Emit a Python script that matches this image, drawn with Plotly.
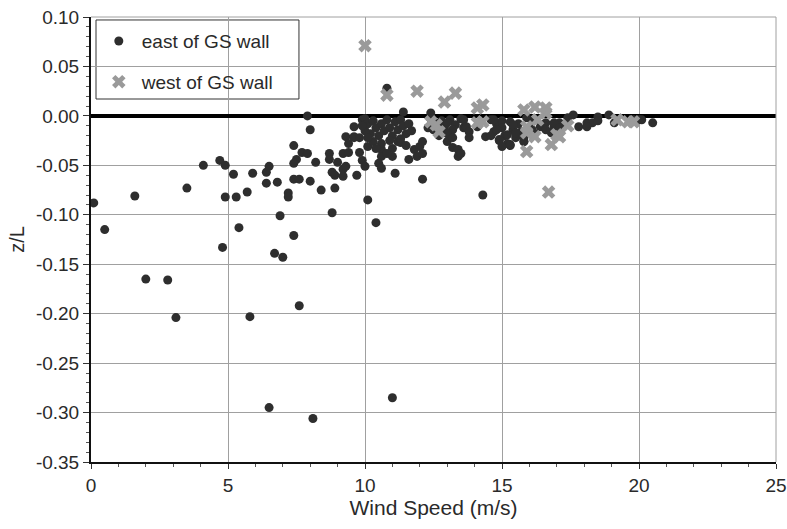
import plotly.graph_objects as go

# Stability parameter z/L versus wind speed, split by site relative to the GS wall
east_ws = [
    0.1, 0.5, 1.6, 2.0, 2.8, 3.1, 3.5, 4.1, 4.7, 4.9, 5.2, 4.8, 4.9, 5.3, 5.4,
    5.7, 5.9, 6.4, 6.5, 6.4, 6.8, 7.2, 7.2, 6.9, 7.4, 7.4, 7.5, 7.4, 7.7, 7.9,
    8.0, 8.2, 7.4, 7.6, 8.0, 8.4, 8.8, 8.9, 8.7, 8.7, 9.0, 8.8, 8.9, 9.2, 9.2,
    9.2, 9.4, 9.3, 9.6, 9.4, 9.6, 9.7, 5.8, 7.6, 6.5, 8.1, 11.0, 6.7, 7.0, 7.9,
    9.3, 9.8, 9.9, 10.0, 10.1, 10.6, 10.6, 10.5, 10.6, 11.0, 11.1, 11.2, 11.3,
    11.6, 11.8, 12.0, 11.9, 12.1, 12.1, 10.1, 10.4, 14.3, 9.6, 9.8, 10.8, 11.4,
    12.4, 9.9,
    10.0, 10.1, 10.3, 10.4, 10.2, 10.0, 10.5, 10.6, 10.7, 10.8, 10.9, 11.0,
    11.1, 11.2, 11.3, 11.4, 11.5, 11.6, 10.3, 10.6, 10.9, 11.3, 10.1, 11.7,
    9.9, 10.4, 11.0, 10.8, 11.5,
    12.4, 12.6, 12.8, 12.5, 12.9, 13.1, 13.3, 13.5, 12.7, 13.0, 13.2, 13.6, 12.3,
    12.7, 13.0, 13.0, 13.0, 13.2, 13.2, 13.4, 13.4, 13.6, 13.7, 13.8, 14.1,
    14.4, 13.8, 13.5, 12.1,
    14.6, 14.8, 14.7, 15.0, 15.0, 15.1, 15.2, 15.3, 15.4, 15.5, 15.6, 15.7,
    14.9, 15.3, 14.6, 15.8, 16.0, 16.1, 16.2, 15.9,
    14.7, 14.8, 14.9, 15.0, 15.2, 15.3, 15.4, 15.5, 15.8, 16.1, 16.4, 16.6,
    16.9, 17.1, 15.8, 16.5, 16.8, 16.9, 17.4, 17.6, 17.8, 18.1, 18.5, 18.3,
    18.9, 19.1, 19.8, 20.1, 20.5, 17.1, 17.3, 16.6, 18.1, 18.5, 20.0,
]
east_zl = [
    -0.088, -0.115, -0.081, -0.165, -0.166, -0.204, -0.073, -0.050, -0.045,
    -0.050, -0.059, -0.133, -0.082, -0.082, -0.113, -0.077, -0.058, -0.057,
    -0.051, -0.068, -0.067, -0.078, -0.082, -0.101, -0.121, -0.030, -0.044,
    -0.048, -0.037, -0.038, -0.014, -0.047, -0.064, -0.064, -0.066, -0.075,
    -0.098, -0.073, -0.038, -0.044, -0.047, -0.057, -0.060, -0.054, -0.061,
    -0.038, -0.037, -0.021, -0.011, -0.028, -0.021, -0.060, -0.203, -0.192,
    -0.295, -0.306, -0.285, -0.139, -0.143, 0.000,
    -0.051, -0.037, -0.045, -0.051, -0.031, -0.034, -0.041, -0.048, -0.053,
    -0.041, -0.058, -0.026, -0.027, -0.044, -0.034, -0.031, -0.041, -0.026,
    -0.064, -0.085, -0.108, -0.080, -0.022, -0.022, 0.028, 0.004, 0.003, -0.004,
    -0.003, -0.008, -0.005, -0.012, -0.018, -0.015, -0.020, -0.008, -0.015,
    -0.004, -0.012, -0.020, -0.006, -0.014, -0.004, -0.010, -0.018, -0.008,
    -0.026, -0.028, -0.025, -0.023, -0.022, -0.015, -0.010, -0.033, -0.033,
    -0.038, -0.030,
    -0.003, -0.008, -0.005, -0.014, -0.012, -0.004, -0.009, -0.003, -0.020,
    -0.018, -0.014, -0.012, -0.012,
    -0.007, -0.007, -0.017, -0.026, -0.022, -0.032, -0.034, -0.041, -0.004,
    -0.011, -0.016, -0.011, -0.021, -0.022, -0.038, -0.038,
    -0.004, -0.008, -0.016, -0.005, -0.012, -0.020, -0.028, -0.006, -0.014,
    -0.022, -0.008, -0.016, -0.025, -0.030, -0.020, -0.026, -0.012, -0.005,
    -0.018, -0.002,
    -0.004, -0.014, -0.024, -0.031, -0.019, -0.029, -0.009, -0.017, -0.022,
    -0.014, -0.011, -0.007, -0.011, -0.007, -0.026, -0.009, -0.017, -0.007,
    -0.002, 0.001, -0.011, -0.007, -0.001, -0.007, 0.001, -0.007, -0.004,
    -0.004, -0.007, -0.012, -0.009, -0.014, -0.011, -0.005, -0.004,
]

west_ws = [
    10.0, 10.8, 11.9, 12.9, 13.3, 14.1, 14.3, 15.8, 16.2, 12.4, 12.7, 14.3,
    15.9, 16.3, 16.6, 16.8, 17.0, 15.9, 16.2, 16.7, 14.1, 12.6, 15.9, 19.6,
    19.8, 16.6, 17.1, 17.4, 19.2,
]
west_zl = [
    0.071, 0.021, 0.025, 0.014, 0.023, 0.008, 0.011, 0.006, 0.009, -0.006,
    -0.016, -0.006, -0.036, -0.004, 0.003, -0.029, -0.019, -0.017, -0.021,
    -0.077, -0.007, -0.009, -0.011, -0.006, -0.006, 0.008, -0.021, -0.010,
    -0.004,
]

y_tick_vals = [0.10, 0.05, 0.00, -0.05, -0.10, -0.15, -0.20, -0.25, -0.30, -0.35]
y_tick_text = ["0.10", "0.05", "0.00", "-0.05", "-0.10", "-0.15", "-0.20",
               "-0.25", "-0.30", "-0.35"]
x_tick_vals = [0, 5, 10, 15, 20, 25]
x_tick_text = ["0", "5", "10", "15", "20", "25"]

FONT = "Liberation Sans, Arial, sans-serif"
TEXT = "#2a2a2a"
GRID = "#a0a0a0"

fig = go.Figure()
fig.add_trace(go.Scatter(
    x=east_ws, y=east_zl, mode="markers", name="east of GS wall",
    legendgroup="east",
    marker=dict(symbol="circle", size=9, color="#2e2e2e", line=dict(width=0)),
))
fig.add_trace(go.Scatter(
    x=west_ws, y=west_zl, mode="markers", name="west of GS wall",
    legendgroup="west",
    marker=dict(symbol="x", size=12, color="#9a9a9a", line=dict(width=0)),
))

fig.update_layout(
    width=787, height=529,
    margin=dict(l=91, r=11, t=17, b=67),
    paper_bgcolor="white", plot_bgcolor="white",
    font=dict(family=FONT, size=18, color=TEXT),
    showlegend=True,
    legend=dict(
        x=0.007, y=0.9885, xanchor="left", yanchor="top",
        bgcolor="rgba(0,0,0,0)", borderwidth=0,
        font=dict(family=FONT, size=19, color=TEXT),
        tracegroupgap=13, itemsizing="trace", itemwidth=36,
    ),
)

fig.update_xaxes(
    range=[0, 25], tickmode="array", tickvals=x_tick_vals, ticktext=x_tick_text,
    automargin=False,
    showgrid=True, gridcolor=GRID, gridwidth=1,
    ticks="outside", ticklen=5, tickcolor="#333333",
    minor=dict(tickmode="linear", tick0=0, dtick=1, ticks="outside",
               ticklen=3, tickcolor="#555555", showgrid=False),
    showline=True, linecolor="#111111", linewidth=2, mirror=False,
    zeroline=False,
    title=dict(text="Wind Speed (m/s)", font=dict(size=21), standoff=6),
    tickfont=dict(size=19),
)
fig.update_yaxes(
    range=[-0.35, 0.10], tickmode="array", tickvals=y_tick_vals, ticktext=y_tick_text,
    automargin=False,
    showgrid=True, gridcolor=GRID, gridwidth=1,
    ticks="outside", ticklen=6, tickcolor="#333333",
    minor=dict(tickmode="linear", tick0=0, dtick=0.01, ticks="outside",
               ticklen=3, tickcolor="#555555", showgrid=False),
    showline=True, linecolor="#111111", linewidth=2, mirror=False,
    zeroline=True, zerolinecolor="#000000", zerolinewidth=4,
    title=dict(text="z/L", font=dict(size=20), standoff=6),
    tickfont=dict(size=19),
)

# Frame lines along the top and right edges, matching the grid
fig.add_shape(type="line", xref="paper", yref="paper", x0=0, x1=1, y0=1, y1=1,
              line=dict(color=GRID, width=1))
fig.add_shape(type="line", xref="paper", yref="paper", x0=1, x1=1, y0=0, y1=1,
              line=dict(color=GRID, width=1))

# Legend panel: white box with a dark border drawn over the grid
fig.add_shape(type="rect", xref="paper", yref="paper",
              x0=0.0073, x1=0.3036, y0=0.8157, y1=0.9933,
              fillcolor="white", line=dict(color="#333333", width=1),
              layer="between")

fig.write_html("out.html")
